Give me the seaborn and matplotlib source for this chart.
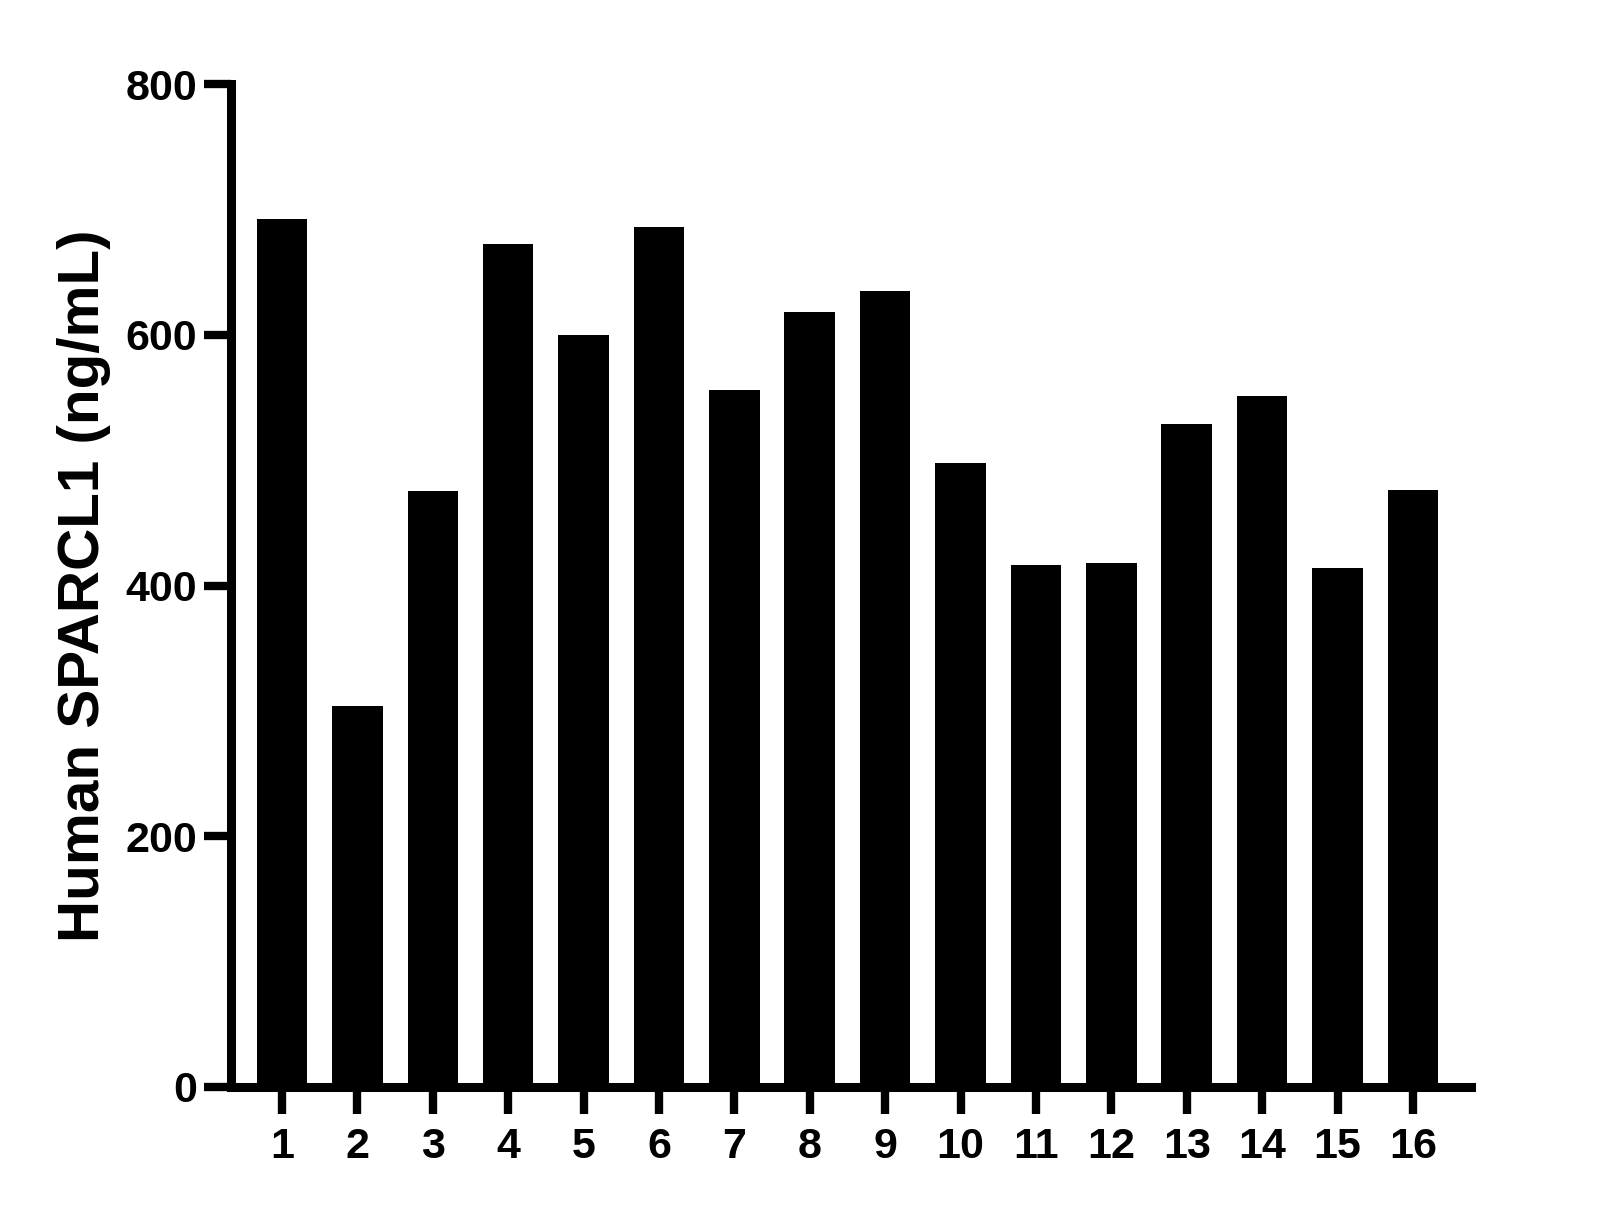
import matplotlib
matplotlib.use("Agg")
import matplotlib.pyplot as plt
import seaborn as sns

# sample ids and measured concentrations (ng/mL)
samples = [str(i) for i in range(1, 17)]
values = [692, 304, 475, 672, 600, 686, 556, 618, 635, 498, 416, 418, 529, 551, 414, 476]
y_ticks = [0, 200, 400, 600, 800]

sns.set_style("ticks")
plt.rcParams['font.family'] = ['Liberation Sans', 'DejaVu Sans']
plt.rcParams['font.weight'] = 'bold'
plt.rcParams['text.color'] = 'black'
plt.rcParams['axes.labelcolor'] = 'black'
plt.rcParams['xtick.color'] = 'black'
plt.rcParams['ytick.color'] = 'black'

fig = plt.figure(figsize=(16.09, 12.08), dpi=100)
ax = fig.add_axes([231 / 1609, 121 / 1208, 1240 / 1609, 1003 / 1208])

sns.barplot(x=samples, y=values, color='black', saturation=1, width=0.67,
            edgecolor='none', linewidth=0, ax=ax)

ax.set_xlim(-0.676, 15.77)
ax.set_ylim(0, 800)
ax.set_yticks(y_ticks)

sns.despine(ax=ax)
for side in ['left', 'bottom']:
    ax.spines[side].set_linewidth(6.5)
    ax.spines[side].set_color('black')

ax.tick_params(axis='both', width=6, length=19.5, color='black',
               labelcolor='black', labelsize=31)
ax.tick_params(axis='y', pad=5)
ax.tick_params(axis='x', pad=9)
for lab in ax.get_xticklabels() + ax.get_yticklabels():
    lab.set_fontweight('bold')

ax.set_xlabel('')
ax.set_ylabel('Human SPARCL1 (ng/mL)', fontsize=42, fontweight='bold',
              color='black', labelpad=10)

fig.savefig('out.png', dpi=100)
